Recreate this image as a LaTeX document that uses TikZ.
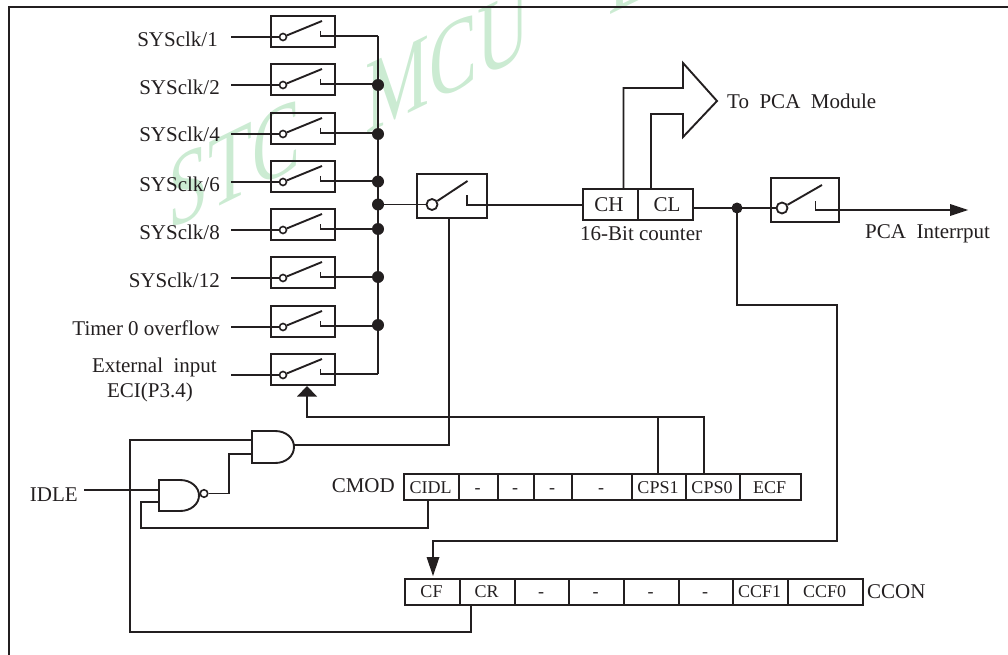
\documentclass[tikz,border=0pt]{standalone}
\usepackage{fontspec}
\setmainfont{Liberation Serif}
\usetikzlibrary{calc,arrows.meta}
\definecolor{ink}{RGB}{35,31,32}
\definecolor{wm}{RGB}{203,235,210}
\tikzset{
  x=1pt,y=-1pt,
  wire/.style={draw=ink,line width=1.9pt,line join=miter},
  sbox/.style={draw=ink,line width=2pt,fill=none},
  cell/.style={draw=ink,line width=1.5pt,anchor=north west,inner sep=0pt,text=ink},
  lab/.style={inner sep=0pt,text=ink,font=\fontsize{21}{21}\selectfont,anchor=base east},
  labw/.style={inner sep=0pt,text=ink,font=\fontsize{21}{21}\selectfont,anchor=base west},
  labc/.style={inner sep=0pt,text=ink,font=\fontsize{18}{18}\selectfont,anchor=base},
  jdot/.style={circle,fill=ink,inner sep=0pt,minimum size=12pt},
  hollow/.style={circle,draw=ink,fill=white,inner sep=0pt},
  tip/.style={fill=ink,draw=none},
}
% small switch: name, y of signal
\newcommand{\smallsw}[2]{%
  \node[sbox,anchor=north west,minimum width=64pt,minimum height=31pt,inner sep=0pt] (#1) at (270,#2-22) {};
  \coordinate (#1in) at (231,#2);
  \node[hollow,line width=1.6pt,minimum size=7pt] (#1c) at (283,#2) {};
  \coordinate (#1t) at (322,#2-16);
  \coordinate (#1h) at (320.5,#2-6);
  \coordinate (#1o) at (378,#2-1);
  \draw[wire] (#1in) -- (#1c.west);
  \draw[wire] (#1c) -- (#1t);
  \draw[wire] (#1h) |- (#1o);
}
\begin{document}
\begin{tikzpicture}
\useasboundingbox (0,0) rectangle (1008,655);
\begin{scope}[shift={(168,231)},yslant=0.49,yscale=1.45]
\node[transform shape,text=wm,anchor=base west,inner sep=0pt,font=\fontsize{72}{72}\selectfont] (wmark) at (0,0) {STC \hspace{47pt}MCU \hspace{61pt}L};
\end{scope}
\coordinate (fa) at (9,655); \coordinate (fb) at (9,7); \coordinate (fc) at (1008,7);
\draw[wire] (fa) -- (fb) -- (fc);
\smallsw{s1}{37}\smallsw{s2}{85}\smallsw{s3}{134}\smallsw{s4}{182}
\smallsw{s5}{230}\smallsw{s6}{278}\smallsw{s7}{327}\smallsw{s8}{375}
\draw[wire] (s1o) -- (s8o);
\foreach \n/\yy in {a/85,b/134,c/181.5,d/204.5,e/229,f/277,g/325}
  \node[jdot] (j\n) at (378,\yy) {};
\node[lab] (l1) at (218,47) {SYSclk/1};
\node[lab] (l2) at (220,94.5) {SYSclk/2};
\node[lab] (l3) at (220,142) {SYSclk/4};
\node[lab] (l4) at (220,191) {SYSclk/6};
\node[lab] (l5) at (220,239) {SYSclk/8};
\node[lab] (l6) at (220,287) {SYSclk/12};
\node[lab] (l7) at (220,335) {Timer 0 overflow};
\node[lab] (l8) at (217,372) {External\ \ input};
\node[lab] (l9) at (193,397) {ECI(P3.4)};
% main switch
\node[sbox,anchor=north west,minimum width=70pt,minimum height=43.5pt,inner sep=0pt] (msw) at (416,173) {};
\node[hollow,line width=1.8pt,minimum size=11pt] (mc) at (432,204.5) {};
\coordinate (mt) at (467.5,181); \coordinate (mh) at (467,195); \coordinate (mo) at (582,205);
\draw[wire] (jd) -- (mc.west);
\draw[wire] (mc) -- (mt);
% counter
\node[cell,line width=2pt,minimum width=55pt,minimum height=31pt] (ch) at (582,188) {};
\node[cell,line width=2pt,minimum width=55pt,minimum height=31pt] (cl) at (637,188) {};
\node[labc,font=\fontsize{21}{21}\selectfont] (cht) at (609,211) {CH};
\node[labc,font=\fontsize{21}{21}\selectfont] (clt) at (667,211) {CL};
\node[labw] (cnt) at (580,240) {16-Bit counter};
\draw[wire] (mh) |- (mo);
% bus arrow
\coordinate (b1) at (623.5,188);\coordinate (b2) at (623.5,88);\coordinate (b3) at (683,88);\coordinate (b4) at (683,63);
\coordinate (b5) at (717,101);\coordinate (b6) at (683,137);\coordinate (b7) at (683,114);\coordinate (b8) at (651,114);\coordinate (b9) at (651,188);
\draw[wire] (b1)--(b2)--(b3)--(b4)--(b5)--(b6)--(b7)--(b8)--(b9);
\node[labw] (topca) at (727,109) {To\ \ PCA\ \ Module};
% right switch
\node[sbox,anchor=north west,minimum width=68pt,minimum height=44pt,inner sep=0pt] (rsw) at (770,177) {};
\node[hollow,line width=1.8pt,minimum size=11pt] (rc) at (782,208) {};
\coordinate (rt) at (822,185); \coordinate (rh) at (815.5,201);
\coordinate (rj) at (737,208); \coordinate (rend) at (968,210); \coordinate (rcap) at (950,210);
\draw[wire] (cl.east |- rj) -- (rc.west);
\draw[wire] (rc) -- (rt);
\draw[wire] (rh) |- (rcap);
\draw[tip] (rend) -- (950,204) -- (950,216) -- cycle;
\node[jdot,minimum size=11pt] (rdot) at (rj) {};
\node[labw] (pcai) at (865,238) {PCA\ \ Interrput};
% CMOD register
\foreach \nm/\xa/\xb/\t in {cidl/403/458/CIDL,m1/458/497/-,m2/497/533/-,m3/533/571/-,m4/571/631/-,cps1/631/685/CPS1,cps0/685/739/CPS0,ecf/739/800/ECF}{
  \node[cell,minimum width=\xb pt-\xa pt,minimum height=26pt] (\nm) at (\xa,473) {};
  \node[labc] (\nm t) at ($(\xa,493)!.5!(\xb,493)$) {\t};
}
\node[lab] (cmodl) at (395,492) {CMOD};
% CCON register
\foreach \nm/\xa/\xb/\t in {cf/404/459/CF,cr/459/514/CR,n1/514/568/-,n2/568/623/-,n3/623/678/-,n4/678/732/-,ccfa/732/787/CCF1,ccfb/787/862/CCF0}{
  \node[cell,minimum width=\xb pt-\xa pt,minimum height=26pt] (\nm) at (\xa,578) {};
  \node[labc] (\nm t) at ($(\xa,597)!.5!(\xb,597)$) {\t};
}
\node[labw] (cconl) at (867,598) {CCON};
% CCF wire
\coordinate (w1) at (737,305);\coordinate (w2) at (837,305);\coordinate (w3) at (837,541);\coordinate (w4) at (433,541);\coordinate (w5) at (433,558);
\draw[wire] (rdot.center)--(w1)--(w2)--(w3)--(w4)--(w5);
\draw[tip] (433,576) -- (426.5,557) -- (439.5,557) -- cycle;
% clock select
\coordinate (c1) at (704,417);\coordinate (c2) at (307,417);\coordinate (c3) at (307,396);\coordinate (c4) at (658,417);
\draw[wire] (cps0.north -| c1) -- (c1) -- (c2) -- (c3);
\draw[wire] (c4) -- (cps1.north -| c4);
\draw[tip] (307,386) -- (297,396.5) -- (317,396.5) -- cycle;
% gates
\draw[wire] (275,431) -- (252,431) -- (252,463) -- (275,463) .. controls (286,463) and (294,456) .. (294,447) .. controls (294,438) and (286,431) .. (275,431) -- cycle;
\coordinate (aout) at (294,445);\coordinate (ain1) at (252,440);\coordinate (ain2) at (252,454);
\draw[wire] (180,480) -- (159,480) -- (159,511) -- (180,511) .. controls (191,511) and (199,504) .. (199,495.5) .. controls (199,487) and (191,480) .. (180,480) -- cycle;
\node[hollow,line width=1.6pt,minimum size=7.5pt] (bub) at (204,493.5) {};
\coordinate (nin1) at (159,490);\coordinate (nin2) at (159,502);
\coordinate (idlea) at (84,490);
\draw[wire] (idlea) -- (nin1);
\draw[wire] (bub.east) -- (229,493.5) -- (229,454) -- (ain2);
\draw[wire] (nin2) -- (141,502) -- (141,528) -- (428,528) -- (428,499);
\draw[wire] (aout) -- (449,445) -- (449,216.5);
\draw[wire] (ain1) -- (130,440) -- (130,632) -- (471,632) -- (471,604);
\node[lab] (idle) at (78,501) {IDLE};
\end{tikzpicture}
\end{document}
